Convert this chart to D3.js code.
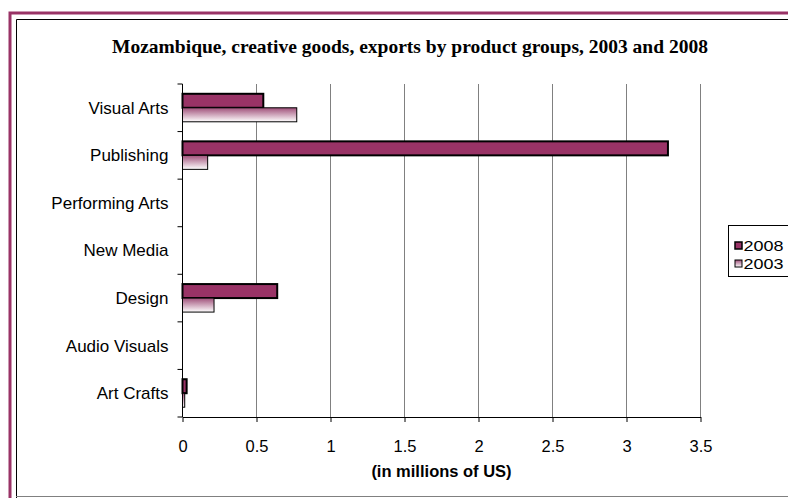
<!DOCTYPE html>
<html><head><meta charset="utf-8">
<script src="https://cdn.jsdelivr.net/npm/d3@7/dist/d3.min.js"></script>
<style>body{margin:0;background:#fff}svg{display:block}</style>
</head><body>
<svg id="c" width="788" height="498"></svg>
<script>
const categories = ["Visual Arts","Publishing","Performing Arts","New Media","Design","Audio Visuals","Art Crafts"];
const values2008 = [0.546, 3.28, 0, 0, 0.64, 0, 0.028];
const values2003 = [0.772, 0.17, 0, 0, 0.213, 0, 0.015];
const seriesNames = ["2008","2003"];
const xTicks = [0,0.5,1,1.5,2,2.5,3,3.5];
const xTickLabels = ["0","0.5","1","1.5","2","2.5","3","3.5"];
const title = "Mozambique, creative goods, exports by product groups, 2003 and 2008";
const xTitle = "(in millions of US)";

(function(){
const svg = d3.select("#c");
const defs = svg.append("defs");
const g = defs.append("linearGradient").attr("id","grad").attr("x1",0).attr("y1",0).attr("x2",0).attr("y2",1);
g.append("stop").attr("offset","0%").attr("stop-color","#a0507a");
g.append("stop").attr("offset","100%").attr("stop-color","#ffffff");

svg.append("path").attr("d","M10,498 V13 H788").attr("fill","none").attr("stroke","#993366").attr("stroke-width",3);
svg.append("path").attr("d","M16.5,498 V19.5 H788").attr("fill","none").attr("stroke","#000").attr("stroke-width",1);
svg.append("line").attr("x1",16).attr("x2",788).attr("y1",496.5).attr("y2",496.5).attr("stroke","#808080");

const font = "Liberation Sans, Arial, sans-serif";
svg.append("text").attr("x",410).attr("y",53).attr("text-anchor","middle")
  .attr("font-family","Liberation Serif, Times New Roman, serif").attr("font-weight","bold").attr("font-size",19.5)
  .text(title);

const pl=182.5, pr=700.5, pt=84, pb=417;
const x = d3.scaleLinear().domain([0,3.5]).range([pl,pr]);
const y = d3.scaleBand().domain(categories).range([pt,pb]);

svg.append("g").selectAll("line").data(xTicks.slice(1)).join("line")
  .attr("x1",d=>x(d)).attr("x2",d=>x(d)).attr("y1",pt).attr("y2",pb)
  .attr("stroke","#808080").attr("stroke-width",1);

const bh = 14;
const grp = svg.append("g");
categories.forEach((c,i)=>{
  const cy = y(c)+y.bandwidth()/2;
  if(values2008[i]>0) grp.append("rect").attr("x",x(0)).attr("y",cy-bh).attr("width",x(values2008[i])-x(0)).attr("height",bh)
    .attr("fill","#993366").attr("stroke","#000").attr("stroke-width",2);
  if(values2003[i]>0) grp.append("rect").attr("x",x(0)).attr("y",cy).attr("width",x(values2003[i])-x(0)).attr("height",bh)
    .attr("fill","url(#grad)").attr("stroke","#000").attr("stroke-width",1);
});

const xa = svg.append("g").attr("transform",`translate(0,${pb})`)
  .call(d3.axisBottom(x).tickValues(xTicks).tickFormat((d,i)=>xTickLabels[i]).tickSize(5).tickSizeOuter(0).tickPadding(18));
xa.select(".domain").attr("stroke","#000");
xa.selectAll("text").attr("font-family",font).attr("font-size",16.5).attr("fill","#000");

const ya = svg.append("g").attr("transform",`translate(${pl},0)`);
ya.append("line").attr("x1",0).attr("x2",0).attr("y1",pt).attr("y2",pb).attr("stroke","#000");
const bounds = categories.map(c=>y(c)).concat([pb]);
ya.selectAll("line.t").data(bounds).join("line").attr("class","t")
  .attr("x1",-5).attr("x2",0).attr("y1",d=>d).attr("y2",d=>d).attr("stroke","#000");
ya.selectAll("text").data(categories).join("text")
  .attr("x",-14).attr("y",d=>y(d)+y.bandwidth()/2).attr("dy","0.35em").attr("text-anchor","end")
  .attr("font-family",font).attr("font-size",17).text(d=>d);

svg.append("text").attr("x",(pl+pr)/2).attr("y",477).attr("text-anchor","middle")
  .attr("font-family",font).attr("font-weight","bold").attr("font-size",16.5).text(xTitle);

const lg = svg.append("g");
lg.append("rect").attr("x",728.5).attr("y",225.5).attr("width",70).attr("height",51).attr("fill","#fff").attr("stroke","#000");
seriesNames.forEach((s,i)=>{
  const ly = [245.5,263.5][i];
  lg.append("rect").attr("x",735).attr("y",ly-3.5).attr("width",7).attr("height",7)
    .attr("fill",i===0?"#993366":"url(#grad)").attr("stroke","#000").attr("stroke-width",i===0?1.5:1);
  lg.append("text").attr("x",743.5).attr("y",ly).attr("dy","0.35em")
    .attr("font-family",font).attr("font-size",15).attr("textLength",40).attr("lengthAdjust","spacingAndGlyphs").text(s);
});
})();
</script>
</body></html>
